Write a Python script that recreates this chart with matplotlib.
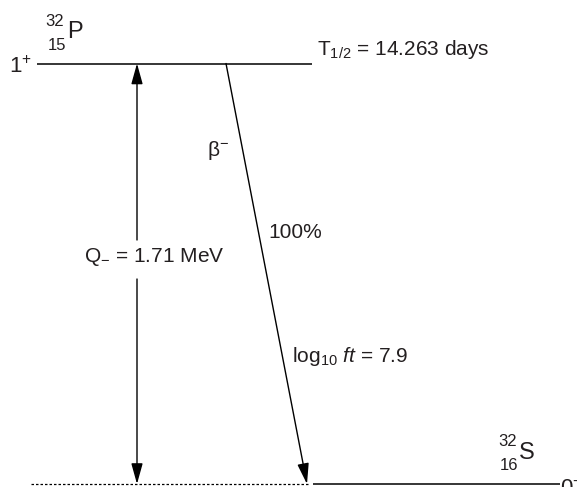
import matplotlib
matplotlib.use("Agg")
import matplotlib.pyplot as plt
from matplotlib.patches import FancyArrowPatch

plt.rcParams["font.family"] = ["Liberation Sans", "DejaVu Sans"]
plt.rcParams["mathtext.fontset"] = "custom"
plt.rcParams["mathtext.rm"] = "Liberation Sans"
plt.rcParams["mathtext.it"] = "Liberation Sans:italic"
plt.rcParams["mathtext.bf"] = "Liberation Sans:bold"

# Decay scheme of 32P -> 32S
parent = {"A": "32", "Z": "15", "sym": "P", "spin": "1$^{+}$"}
daughter = {"A": "32", "Z": "16", "sym": "S", "spin": "0$^{+}$"}
level_energy = [1.71, 0.0]          # MeV, parent level and ground state of daughter
q_value = 1.71                      # MeV
half_life = "T$_{1/2}$ = 14.263 days"
branch_pct = 100
log_ft = 7.9

INK = "#231f20"
FS = 15
W, H = 577, 487

fig = plt.figure(figsize=(W / 100, H / 100), dpi=100)
ax = fig.add_axes([0, 0, 1, 1])
ax.axis("off")

# vertical scale: pixel rows per MeV
y_top_px, y_bot_px = 63.5, 484.0
ppm = (y_bot_px - y_top_px) / (level_energy[0] - level_energy[1])
ax.set_xlim(0, W)
ax.set_ylim(level_energy[1] - (H - y_bot_px) / ppm, level_energy[0] + y_top_px / ppm)


def ey(px):
    """Convert a pixel row to energy coordinate."""
    return level_energy[0] + (y_top_px - px) / ppm


E_hi, E_lo = level_energy

# levels
ax.plot([37, 312], [E_hi, E_hi], color="black", lw=1.1, solid_capstyle="butt")
ax.plot([313, 560], [E_lo, E_lo], color="black", lw=1.1, solid_capstyle="butt")
ax.plot([31, 308], [E_lo, E_lo], color="black", lw=0.9, ls=(0, (2, 1.6)))

# Q-value double arrow with a gap for its label
x_q = 137
gap_top, gap_bot = ey(240), ey(279)
arrow_kw = dict(arrowstyle="-|>,head_length=0.9,head_width=0.25", color="black",
                lw=1.0, mutation_scale=14, shrinkA=0, shrinkB=0)
ax.add_patch(FancyArrowPatch((x_q, gap_top), (x_q, E_hi), **arrow_kw))
ax.add_patch(FancyArrowPatch((x_q, gap_bot), (x_q, E_lo), **arrow_kw))
ax.text(84, ey(257), f"Q$_{{-}}$ = {q_value:.2f} MeV", fontsize=FS, color=INK,
        ha="left", va="center")

# beta- transition
ax.add_patch(FancyArrowPatch((226, E_hi), (307, E_lo), **arrow_kw))
ax.text(207, ey(150), r"β$^{-}$", fontsize=FS, color=INK, ha="left", va="center")
ax.text(268, ey(233), f"{branch_pct}%", fontsize=FS, color=INK, ha="left", va="center")
ax.text(292, ey(357), f"log$_{{10}}$ $\\it{{ft}}$ = {log_ft}", fontsize=FS, color=INK,
        ha="left", va="center")

# spins
ax.text(32, ey(67), parent["spin"], fontsize=16, color=INK, ha="right", va="center")
ax.text(560, ey(489), daughter["spin"], fontsize=16, color=INK, ha="left", va="center")

# half-life
ax.text(317, ey(49), half_life, fontsize=FS, color=INK, ha="left", va="center")

# nuclide symbols
ax.text(67, ey(32), parent["sym"], fontsize=17, color=INK, ha="left", va="center")
ax.text(64, ey(21), parent["A"], fontsize=12, color=INK, ha="right", va="center")
ax.text(66, ey(45), parent["Z"], fontsize=12, color=INK, ha="right", va="center")

ax.text(519, ey(453), daughter["sym"], fontsize=17, color=INK, ha="left", va="center")
ax.text(517, ey(441), daughter["A"], fontsize=12, color=INK, ha="right", va="center")
ax.text(518, ey(465), daughter["Z"], fontsize=12, color=INK, ha="right", va="center")

fig.savefig("out.png", dpi=100)
